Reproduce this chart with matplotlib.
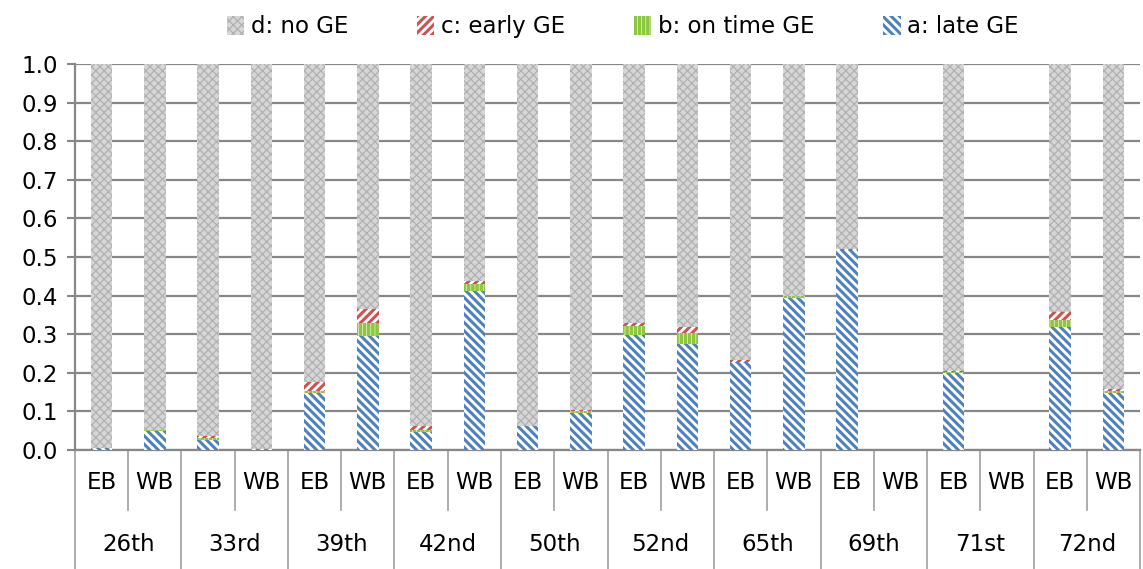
import numpy as np
import matplotlib
matplotlib.use("Agg")
import matplotlib.pyplot as plt
from matplotlib.patches import Patch
from matplotlib.legend_handler import HandlerPatch

# --- DATA ---
groups = ["26th", "33rd", "39th", "42nd", "50th", "52nd", "65th", "69th", "71st", "72nd"]
directions = ["EB", "WB"]

# shares per bar, order: 26th EB, 26th WB, 33rd EB, 33rd WB, ...
late_ge    = [0.004, 0.050, 0.027, 0.003, 0.148, 0.295, 0.046, 0.412, 0.061, 0.097,
              0.298, 0.274, 0.228, 0.395, 0.518, 0.0, 0.200, 0.0, 0.319, 0.147]
ontime_ge  = [0.000, 0.002, 0.004, 0.000, 0.005, 0.035, 0.007, 0.017, 0.001, 0.004,
              0.023, 0.030, 0.001, 0.004, 0.001, 0.0, 0.003, 0.0, 0.017, 0.006]
early_ge   = [0.000, 0.000, 0.006, 0.000, 0.024, 0.035, 0.008, 0.009, 0.001, 0.002,
              0.009, 0.015, 0.003, 0.001, 0.002, 0.0, 0.002, 0.0, 0.022, 0.005]
has_bar    = [1, 1, 1, 1, 1, 1, 1, 1, 1, 1, 1, 1, 1, 1, 1, 0, 1, 0, 1, 1]

late_ge = np.array(late_ge)
ontime_ge = np.array(ontime_ge)
early_ge = np.array(early_ge)
no_ge = np.where(np.array(has_bar) > 0, 1.0 - late_ge - ontime_ge - early_ge, 0.0)

series = [
    ("a: late GE", late_ge, "white", "#4F81BD", "\\\\\\\\", 2.2),
    ("b: on time GE", ontime_ge, "white", "#8DC63F", "||||", 2.6),
    ("c: early GE", early_ge, "white", "#D0504D", "////", 2.2),
    ("d: no GE", None, "#d6d6d6", "#b0b0b0", "xxxx", 0.9),
]

plt.rcParams['font.family'] = ['DejaVu Sans']
FS = 16.5
GRID = "#878787"


def set_hlw(p, lw):
    # per-patch hatch width (matplotlib >= 3.10)
    if hasattr(p, "set_hatch_linewidth"):
        p.set_hatch_linewidth(lw)


class HatchHandler(HandlerPatch):
    def create_artists(self, legend, orig_handle, xdescent, ydescent, width, height, fontsize, trans):
        arts = super().create_artists(legend, orig_handle, xdescent, ydescent, width, height, fontsize, trans)
        for a in arts:
            set_hlw(a, orig_handle._hlw)
        return arts


fig = plt.figure(figsize=(11.43, 5.69), dpi=100)
ax = fig.add_axes([0.0656, 0.2091, 0.9318, 0.6784])

x = np.arange(len(late_ge))
width = 0.4
bottom = np.zeros(len(x))
handles = {}
for label, vals, face, col, hatch, hlw in series:
    if vals is None:
        vals = no_ge
    plt.rcParams['hatch.linewidth'] = hlw
    bars = ax.bar(x, vals, width, bottom=bottom, facecolor=face, edgecolor=col,
                  hatch=hatch, linewidth=0, zorder=3)
    for b in bars:
        set_hlw(b, hlw)
    h = Patch(facecolor=face, edgecolor=col, hatch=hatch, linewidth=0)
    h._hlw = hlw
    handles[label] = h
    bottom = bottom + vals

ax.set_xlim(-0.5, len(x) - 0.5)
ax.set_ylim(0, 1.0)
ax.set_yticks(np.arange(0, 1.01, 0.1))
ax.set_yticklabels([f"{v:.1f}" for v in np.arange(0, 1.01, 0.1)], fontsize=FS)
ax.tick_params(axis="y", length=6, width=1.5, color=GRID, pad=6)
ax.set_xticks([])
ax.yaxis.grid(True, color=GRID, linewidth=1.6, zorder=0)
ax.set_axisbelow(True)
for side in ["top", "right"]:
    ax.spines[side].set_visible(False)
for side in ["left", "bottom"]:
    ax.spines[side].set_color(GRID)
    ax.spines[side].set_linewidth(1.6)

# multi-level category axis
tr = ax.get_xaxis_transform()
sep_short = -0.155
sep_long = -0.31
for i in range(len(x) + 1):
    xb = i - 0.5
    y_end = sep_long if i % 2 == 0 else sep_short
    ax.plot([xb, xb], [0, y_end], color="#a0a0a0", linewidth=1.2, transform=tr, clip_on=False)
for i in range(len(x)):
    ax.text(i, -0.083, directions[i % 2], transform=tr, ha="center", va="center", fontsize=FS)
for g, name in enumerate(groups):
    ax.text(2 * g + 0.5, -0.246, name, transform=tr, ha="center", va="center", fontsize=FS)

order = ["d: no GE", "c: early GE", "b: on time GE", "a: late GE"]
fig.legend([handles[k] for k in order], order, loc="upper center", ncol=4,
           bbox_to_anchor=(0.545, 1.01), frameon=False, fontsize=FS,
           handlelength=0.75, handleheight=0.9, handletextpad=0.3, columnspacing=3.0,
           handler_map={Patch: HatchHandler()})

fig.savefig("out.png", dpi=100)
